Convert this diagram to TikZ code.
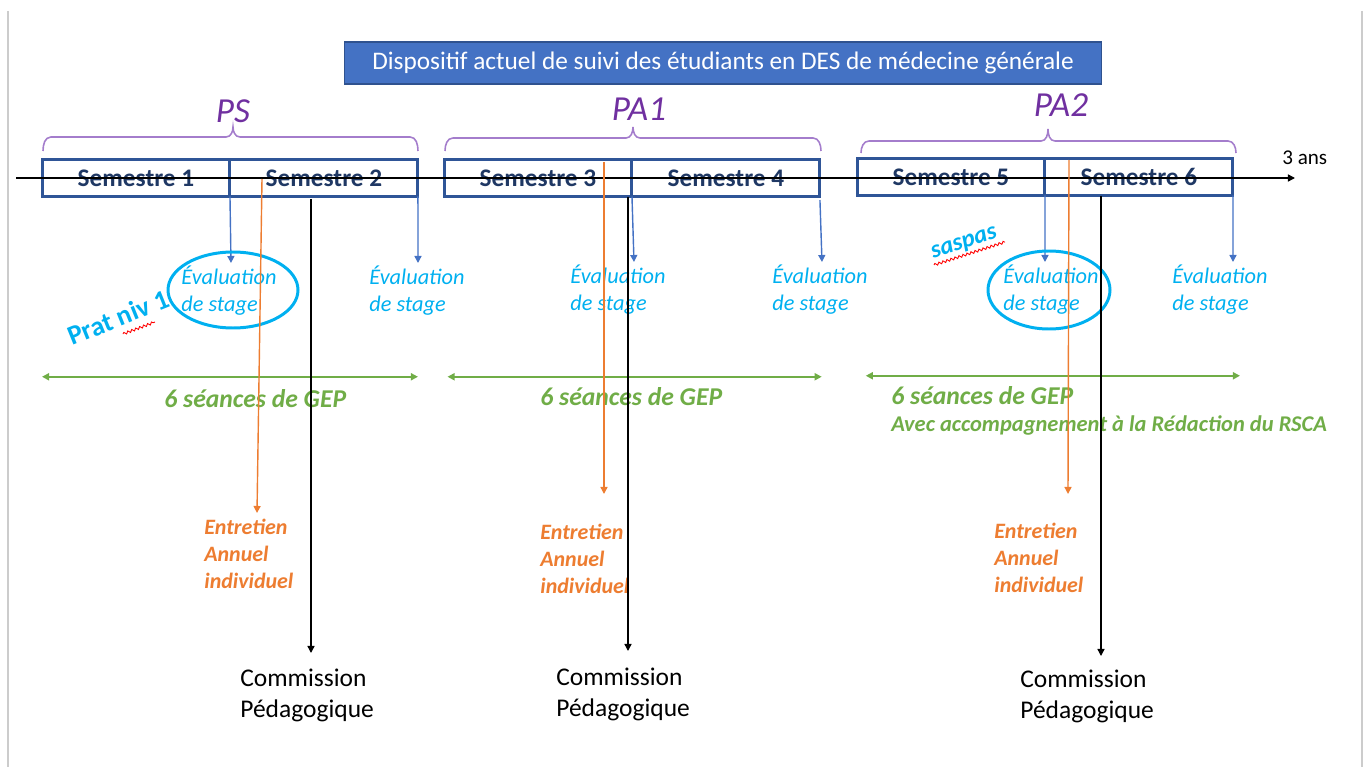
\documentclass[tikz,border=0pt]{standalone}
\usepackage{fontspec}
\setmainfont{Carlito}
\usetikzlibrary{arrows.meta, positioning, decorations.pathmorphing}

\definecolor{titlefill}{HTML}{4472C4}
\definecolor{titleedge}{HTML}{2F528F}
\definecolor{semedge}{HTML}{2F5597}
\definecolor{semtext}{HTML}{1F3864}
\definecolor{evcyan}{HTML}{00B0F0}
\definecolor{evblue}{HTML}{4472C4}
\definecolor{gepgreen}{HTML}{70AD47}
\definecolor{entorange}{HTML}{ED7D31}
\definecolor{phasepurple}{HTML}{7030A0}
\definecolor{bracepurple}{HTML}{A47DCC}
\definecolor{framegray}{HTML}{CCCCCC}

\begin{document}
\begin{tikzpicture}[x=0.02cm, y=-0.02cm,
    titlebox/.style={draw=titleedge, fill=titlefill, text=white, line width=0.6pt, minimum width=15.16cm, minimum height=0.84cm, font=\fontsize{14.4}{16}\selectfont},
    semester/.style={draw=semedge, line width=1.7pt, minimum width=3.76cm, minimum height=0.74cm, inner sep=0pt, outer sep=0pt, text=semtext, font=\fontsize{14.4}{16}\bfseries},
    phase/.style={anchor=base, text=phasepurple, font=\fontsize{20}{24}\itshape},
    brace/.style={draw=bracepurple, line width=0.9pt},
    evallabel/.style={anchor=base west, inner sep=0pt, align=left, text=evcyan, font=\fontsize{12.7}{15.3}\itshape},
    evring/.style={draw=evcyan, line width=1.7pt},
    evarrow/.style={draw=evblue, line width=0.8pt, -{Triangle[length=4pt, width=4pt]}},
    entlabel/.style={anchor=base west, inner sep=0pt, align=left, text=entorange, font=\fontsize{12.5}{15.2}\bfseries\itshape},
    entarrow/.style={draw=entorange, line width=0.8pt, -{Triangle[length=4pt, width=4pt]}},
    comlabel/.style={anchor=base west, inner sep=0pt, align=left, font=\fontsize{14.5}{17.2}\selectfont},
    comarrow/.style={draw=black, line width=0.8pt, -{Triangle[length=4pt, width=4pt]}},
    geplabel/.style={anchor=base west, inner sep=0pt, text=gepgreen, font=\fontsize{14.6}{17}\bfseries\itshape},
    geparrow/.style={draw=gepgreen, line width=1.1pt, {Triangle[length=4pt, width=4pt]}-{Triangle[length=4pt, width=4pt]}},
    tilted/.style={anchor=base west, inner sep=0pt, text=evcyan},
    squiggle/.style={draw=red, line width=0.5pt, decorate, decoration={snake, amplitude=0.7pt, segment length=2.4pt}}
]
    \useasboundingbox (0,0) rectangle (1367,767);
    \draw[framegray, line width=0.9pt] (8,11) -- (8,767);
    \draw[framegray, line width=0.9pt] (1362,11) -- (1362,767);

    \node[titlebox] (title) at (723,63) {Dispositif actuel de suivi des étudiants en DES de médecine générale};

    \node[phase] (ps)  at (233,123)  {PS};
    \node[phase] (pa1) at (639,121)  {PA1};
    \node[phase] (pa2) at (1061,117) {PA2};

    \draw[brace] (43,151) to[out=90,in=180] (51,137) -- (226,137) to[out=0,in=-90] (233,127) to[out=-90,in=180] (240,137) -- (410,137) to[out=0,in=90] (418,151);
    \draw[brace] (445,151) to[out=90,in=180] (453,138) -- (626,138) to[out=0,in=-90] (633,127) to[out=-90,in=180] (640,138) -- (813,138) to[out=0,in=90] (821,151);
    \draw[brace] (861,153) to[out=90,in=180] (869,141) -- (1041,141) to[out=0,in=-90] (1048,129) to[out=-90,in=180] (1055,141) -- (1228,141) to[out=0,in=90] (1236,153);

    \node[semester] (s1) at (136,178) {Semestre 1};
    \node[semester, right=0pt of s1] (s2) {Semestre 2};
    \node[semester] (s3) at (538,178) {Semestre 3};
    \node[semester, right=0pt of s3] (s4) {Semestre 4};
    \node[semester] (s5) at (951,177) {Semestre 5};
    \node[semester, right=0pt of s5] (s6) {Semestre 6};

    \node[anchor=base west, inner sep=0pt, font=\fontsize{12}{14}\selectfont] (ans) at (1282,165) {3 ans};
    \coordinate (origin) at (16,178);
    \coordinate (fin) at (1295,178);
    \draw[line width=0.8pt, -{Triangle[length=4pt, width=4pt]}] (origin) -- (fin);

    \node[evallabel] (ev1) at (181,311)  {Évaluation\\de stage};
    \node[evallabel] (ev2) at (369,311)  {Évaluation\\de stage};
    \node[evallabel] (ev3) at (570,310)  {Évaluation\\de stage};
    \node[evallabel] (ev4) at (772,310)  {Évaluation\\de stage};
    \node[evallabel] (ev5) at (1003,310) {Évaluation\\de stage};
    \node[evallabel] (ev6) at (1172,310) {Évaluation\\de stage};

    \coordinate (t1) at (231,263);
    \coordinate (t2) at (418,263);
    \coordinate (t3) at (634,262);
    \coordinate (t4) at (822,262);
    \coordinate (t5) at (1045,262);
    \coordinate (t6) at (1233,262);
    \draw[evarrow] (s1.south east) -- (t1);
    \draw[evarrow] (s2.south east) -- (t2);
    \draw[evarrow] (s3.south east) -- (t3);
    \draw[evarrow] ([yshift=-2pt]s4.south east) -- (t4);
    \draw[evarrow] (s5.south east) -- (t5);
    \draw[evarrow] (s6.south east) -- (t6);

    \draw[evring] (233,290) ellipse [x radius=65, y radius=38];
    \draw[evring] (1049,290) ellipse [x radius=61, y radius=39];

    \node[tilted, rotate=22, font=\fontsize{15.5}{18}\bfseries] (prat) at (72,346) {Prat niv 1};
    \draw[squiggle] (123,334) -- (155,322);
    \node[tilted, rotate=18, font=\fontsize{14}{17}\bfseries\itshape] (saspas) at (933,259) {saspas};
    \draw[squiggle] (934,265) -- (1005,242);

    \draw[geparrow] ([yshift=-102.6pt]s1.south west) -- ([yshift=-102.6pt]s2.south east);
    \draw[geparrow] ([yshift=-102.6pt, xshift=2pt]s3.south west) -- ([yshift=-102.6pt, xshift=1pt]s4.south east);
    \draw[geparrow] ([yshift=-102.6pt, xshift=5pt]s5.south west) -- ([yshift=-102.6pt, xshift=4pt]s6.south east);

    \node[geplabel] (gep1) at (164,407) {6 séances de GEP};
    \node[geplabel] (gep2) at (540,405) {6 séances de GEP};
    \node[geplabel] (gep3) at (891,404) {6 séances de GEP};
    \node[geplabel, font=\fontsize{12.8}{15}\bfseries\itshape] (rsca) at (891,431) {Avec accompagnement à la Rédaction du RSCA};

    \node[entlabel] (en1) at (204,588) {Entretien\\Annuel\\individuel};
    \node[entlabel] (en2) at (540,593) {Entretien\\Annuel\\individuel};
    \node[entlabel] (en3) at (994,592) {Entretien\\Annuel\\individuel};

    \coordinate (o1) at (262,179);
    \coordinate (o2) at (604,162);
    \coordinate (o3) at (1069,160);
    \coordinate (u1) at (257,513);
    \coordinate (u2) at (604,494);
    \coordinate (u3) at (1068,494);
    \draw[entarrow] (o1) -- (u1);
    \draw[entarrow] (o2) -- (u2);
    \draw[entarrow] (o3) -- (u3);

    \node[comlabel] (c1) at (240,717)  {Commission\\Pédagogique};
    \node[comlabel] (c2) at (556,716)  {Commission\\Pédagogique};
    \node[comlabel] (c3) at (1020,718) {Commission\\Pédagogique};

    \coordinate (k1) at (311,199);
    \coordinate (k2) at (628,197);
    \coordinate (k3) at (1101,196);
    \coordinate (d1) at (311,653);
    \coordinate (d2) at (628,651);
    \coordinate (d3) at (1101,656);
    \draw[comarrow] (k1) -- (d1);
    \draw[comarrow] (k2) -- (d2);
    \draw[comarrow] (k3) -- (d3);
\end{tikzpicture}
\end{document}
